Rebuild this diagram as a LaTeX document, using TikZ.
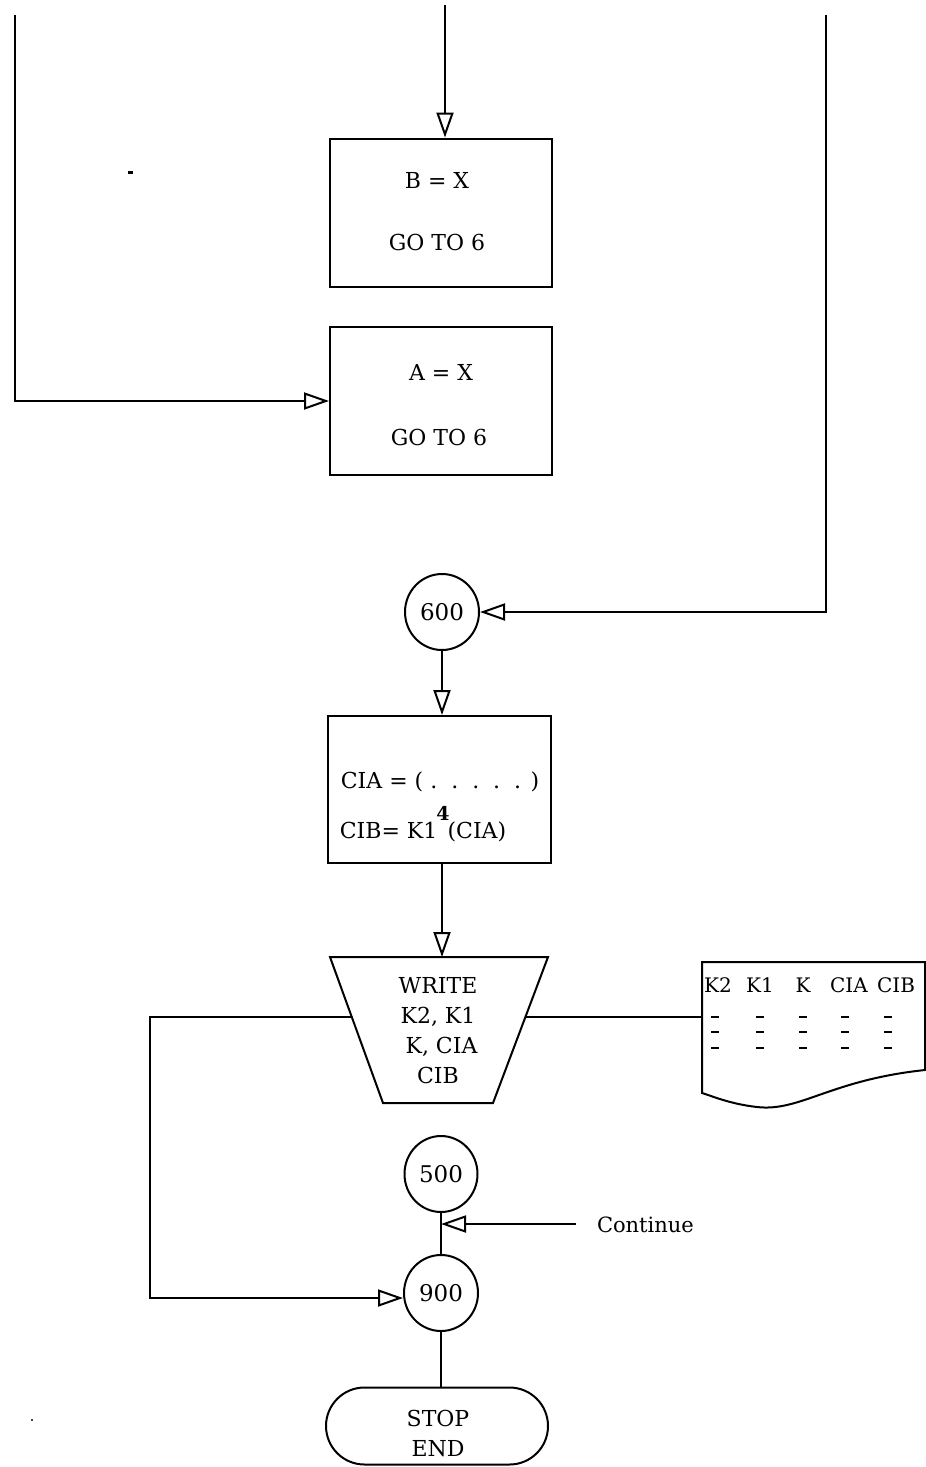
\documentclass[tikz,border=0pt]{standalone}
\usepackage{fontspec}
\setmainfont{DejaVu Serif}
\usetikzlibrary{arrows.meta,shapes.misc,shapes.geometric}
\begin{document}
\begin{tikzpicture}[x=1pt,y=-1pt,
  line width=2pt,
  every node/.style={font=\fontsize{22}{30}\selectfont},
  box/.style={draw,rectangle,minimum width=222pt,minimum height=148pt,inner sep=0pt},
  conn/.style={draw,ellipse,minimum width=74pt,minimum height=76pt,inner sep=0pt,font=\fontsize{23}{24}\selectfont},
  term/.style={draw,rounded rectangle,minimum width=222pt,minimum height=77pt,inner sep=0pt},
  txt/.style={inner sep=0pt,anchor=base},
  arr/.style={-{Triangle[open,length=25pt,width=17pt]}},
  doctxt/.style={inner sep=0pt,anchor=base,font=\fontsize{20}{24}\selectfont}]
\useasboundingbox (0,0) rectangle (926,1467);

% boxes
\node[box] (B) at (441,212.5) {};
\node[txt] (bt1) at (437,188) {B = X};
\node[txt] (bt2) at (437,250) {GO TO 6};
\node[box] (A) at (441,401) {};
\node[txt] (at1) at (441,380) {A = X};
\node[txt] (at2) at (439,445) {GO TO 6};
\node[conn] (c600) at (442,612) {600};
\node[box,minimum width=223pt,minimum height=147pt] (C) at (439.5,789.5) {};
\node[txt] (ct1) at (440,788) {CIA = ( .\ \ .\ \ .\ \ .\ \ . )};
\node[txt] (ct2) at (423,838) {CIB= K1\kern-1pt\raisebox{0.8em}{\fontsize{19}{20}\selectfont\bfseries 4}\kern-2pt(CIA)};

% trapezoid (write)
\coordinate (t1) at (330,957);
\coordinate (t2) at (548,957);
\coordinate (t3) at (493,1103);
\coordinate (t4) at (383,1103);
\draw (t1) -- (t2) -- (t3) -- (t4) -- cycle;
\node[inner sep=0pt,align=center] (W) at (438,1031) {WRITE\\K2, K1\\\ K, CIA\\CIB};
\coordinate (wtop) at (442,957);
\coordinate (wl) at (352,1017);
\coordinate (wr) at (526,1017);

% document
\coordinate (d1) at (702,962);
\coordinate (d2) at (925,962);
\draw (d1) -- (d2) -- (925,1070) .. controls (830,1080) and (800,1112) .. (757,1107)
      .. controls (730,1104) and (712,1096) .. (702,1093) -- cycle;
\coordinate (dl) at (702,1017);
\node[doctxt] (h1) at (718,992) {K2};
\node[doctxt] (h2) at (760,992) {K1};
\node[doctxt] (h3) at (803,992) {K};
\node[doctxt] (h4) at (849,992) {CIA};
\node[doctxt] (h5) at (896,992) {CIB};
\foreach \x in {715,760,803,845,888}{
  \foreach \y in {1017,1032,1048}{
    \draw[line width=2.6pt] (\x-4,\y) -- (\x+4,\y);
  }
}

% bottom connectors
\node[conn,minimum width=73pt,minimum height=76pt] (c500) at (441,1174) {500};
\node[conn,minimum width=74pt,minimum height=76pt] (c900) at (441,1293) {900};
\node[term] (T) at (437,1426) {};
\node[txt] (tt1) at (438,1426) {STOP};
\node[txt] (tt2) at (438,1456) {END};
\node[txt,anchor=base west,font=\fontsize{21}{24}\selectfont] (cont) at (596,1232) {Continue};

% connectors
\coordinate (top) at (445,5);
\draw[arr] (top) -- (top |- B.north);
\coordinate (L1) at (15,15);
\coordinate (L2) at (15,401);
\draw[arr] (L1) -- (L2) -- (A.west);
\coordinate (R1) at (826,15);
\coordinate (R2) at (826,612);
\draw[arr] (R1) -- (R2) -- (c600.east);
\draw[arr] (c600.south) -- (C.north -| c600.south);
\draw[arr] (C.south -| c600.south) -- (wtop);
\coordinate (ll1) at (150,1017);
\coordinate (ll2) at (150,1298);
\draw[arr] (wl) -- (ll1) -- (ll2) -- (ll2 -| c900.west);
\draw (wr) -- (dl);
\draw (c500.south) -- (c900.north);
\coordinate (cj) at (441,1224);
\coordinate (cs) at (576,1224);
\draw[arr] (cs) -- (cj);
\draw (c900.south) -- (T.north -| c900.south);

% specks
\fill (128,171) rectangle (133,174);
\fill (32,1420) circle (1.2pt);
\end{tikzpicture}
\end{document}
